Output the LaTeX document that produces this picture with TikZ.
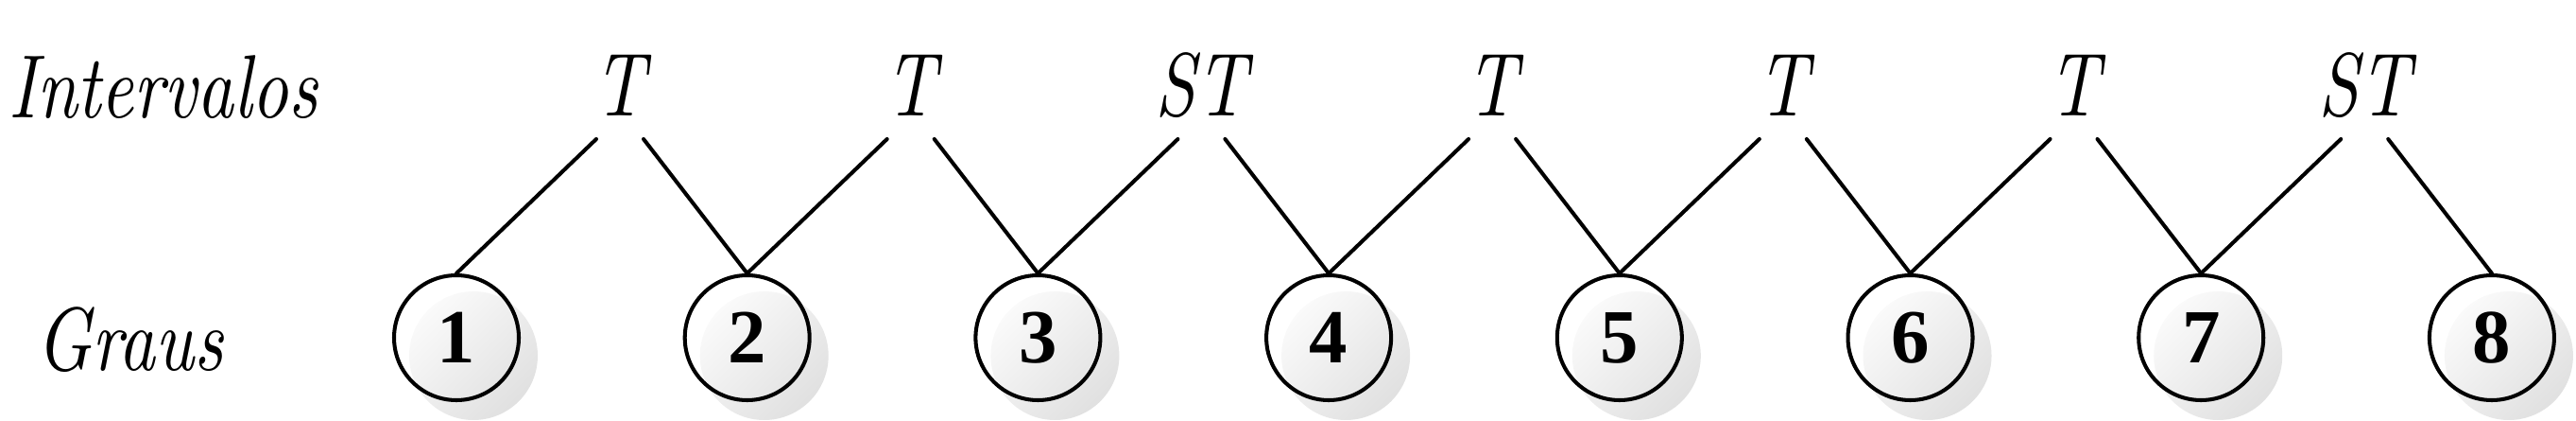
\documentclass[tikz,border=0pt]{standalone}
\usepackage{fontspec}
\setmainfont{Latin Modern Roman}
\newfontfamily\handfont[FakeStretch=0.8]{lmroman10-italic.otf}
\newfontfamily\numfont{Liberation Serif}
\usetikzlibrary{calc}

\tikzset{
  grau/.style={circle, draw, line width=1.15pt, minimum size=1.32cm, inner sep=0pt,
    font=\numfont\bfseries\fontsize{23}{23}\selectfont},
  intervalo/.style={inner sep=0pt, font=\handfont\fontsize{27}{27}\selectfont},
  ligacao/.style={line width=1.15pt, line cap=round}
}

\begin{document}
\begin{tikzpicture}
\useasboundingbox (0,0) rectangle (27.26,-4.45);

% Row titles
\node[intervalo, anchor=base west] (tIntervalos) at (0.09,-1.25) {Intervalos};
\node[intervalo, anchor=base west] (tGraus) at (0.38,-3.92) {Graus};

% Degrees (with soft shadow)
\foreach \i in {1,...,8}{
  \pgfmathsetmacro{\gx}{4.83+(\i-1)*3.077}
  \shade[top color=gray!4, bottom color=gray!24, shading angle=45] (\gx+0.18,-3.76) circle (0.68);
  \node[grau] (g\i) at (\gx,-3.57) {\raisebox{-0.07cm}{\i}};
}

% Intervals between degrees
\foreach \name [count=\k] in {T,T,ST,T,T,T,ST}{
  \pgfmathsetmacro{\tx}{4.83+(\k-1)*3.077+1.73}
  \node[intervalo, anchor=base] (i\k) at (\tx,-1.23) {\name};
}

% Connectors
\foreach \k in {1,...,7}{
  \pgfmathtruncatemacro{\n}{\k+1}
  \draw[ligacao] ($(i\k.base)+(-0.25,-0.24)$) -- (g\k.north);
  \draw[ligacao] ($(i\k.base)+(0.25,-0.24)$) -- (g\n.north);
}
\end{tikzpicture}
\end{document}
